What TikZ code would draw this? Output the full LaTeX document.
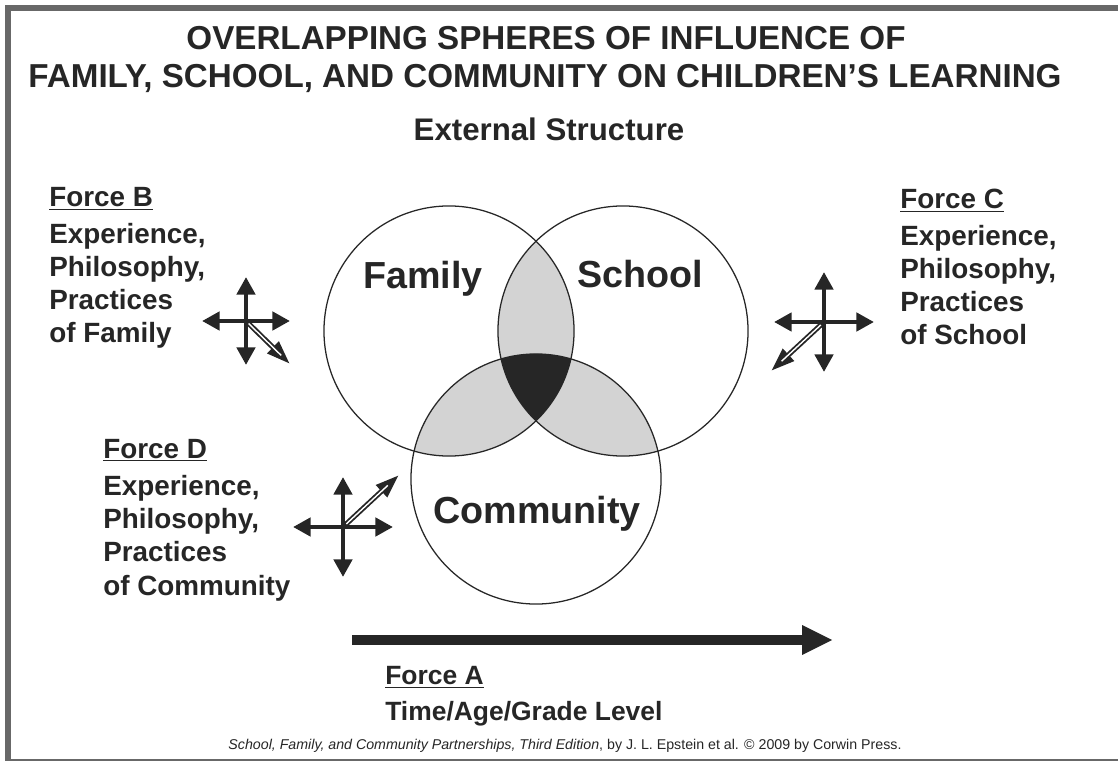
\documentclass[tikz,border=0pt]{standalone}
\usepackage{fontspec}
\setmainfont{Liberation Sans}
\usetikzlibrary{arrows.meta,calc}

\definecolor{ink}{HTML}{262626}
\definecolor{lensgray}{HTML}{D3D3D3}
\definecolor{framegray}{HTML}{686868}

\newcommand{\headfont}{\fontsize{23.6}{28}\selectfont\bfseries}
\newcommand{\subfont}{\fontsize{22.2}{26}\selectfont\bfseries}
\newcommand{\spherefont}{\fontsize{26.8}{30}\selectfont\bfseries}
\newcommand{\forcefont}{\fontsize{19.8}{23.5}\selectfont\bfseries}
\newcommand{\timefont}{\fontsize{18.8}{24.9}\selectfont\bfseries}
\newcommand{\notefont}{\fontsize{10.1}{12}\selectfont}

\tikzset{
  txt/.style={inner sep=0pt, text=ink},
  sphere/.style={draw=ink, line width=0.9pt},
  cross/.style={draw=ink, line width=3.2pt, -{Triangle[length=12.5pt,width=12.8pt]}},
  slant/.style={draw=ink, line width=3.6pt, -{Triangle[length=17pt,width=11pt]}},
  slantgap/.style={draw=white, line width=1pt},
  timeline/.style={draw=ink, line width=7.1pt, -{Triangle[length=22pt,width=19.5pt]}}
}

\begin{document}
\begin{tikzpicture}[x=0.025cm, y=-0.025cm]
    \useasboundingbox (0,0) rectangle (1118,761);

    % frame
    \fill[framegray] (5,5) rectangle (1118,11);
    \fill[framegray] (5,5) rectangle (11,761);
    \fill[framegray] (11,758.5) rectangle (1118,761);

    % heading
    \node[txt, font=\headfont, anchor=base] at (546,50) (head1) {OVERLAPPING SPHERES OF INFLUENCE OF};
    \node[txt, font=\headfont, anchor=base] at (545,88) (head2) {FAMILY, SCHOOL, AND COMMUNITY ON CHILDREN'S LEARNING};
    \node[txt, font=\subfont, anchor=base] at (549,141) (ext) {External Structure};

    % spheres
    \coordinate (fam) at (449,331);
    \coordinate (sch) at (623,331);
    \coordinate (com) at (536,479);

    \begin{scope}
        \clip (fam) circle [radius=3.125cm];
        \fill[lensgray] (sch) circle [radius=3.125cm];
        \fill[lensgray] (com) circle [radius=3.125cm];
    \end{scope}
    \begin{scope}
        \clip (sch) circle [radius=3.125cm];
        \fill[lensgray] (com) circle [radius=3.125cm];
    \end{scope}
    \begin{scope}
        \clip (fam) circle [radius=3.125cm];
        \clip (sch) circle [radius=3.125cm];
        \fill[ink] (com) circle [radius=3.125cm];
    \end{scope}

    \draw[sphere] (fam) circle [radius=3.125cm];
    \draw[sphere] (sch) circle [radius=3.125cm];
    \draw[sphere] (com) circle [radius=3.125cm];

    \node[txt, font=\spherefont, anchor=base] at (423,289) (famlbl) {Family};
    \node[txt, font=\spherefont, anchor=base] at (640,288) (schlbl) {School};
    \node[txt, font=\spherefont, anchor=base] at (537,523) (comlbl) {Community};

    % forces B, C, D (base = last line)
    \node[txt, font=\forcefont, anchor=base west, align=left] at (49,343) (forceb) {%
        \underline{Force B}\\[2.8pt] Experience,\\ Philosophy,\\ Practices\\ of Family};
    \node[txt, font=\forcefont, anchor=base west, align=left] at (900,345) (forcec) {%
        \underline{Force C}\\[2.8pt] Experience,\\ Philosophy,\\ Practices\\ of School};
    \node[txt, font=\forcefont, anchor=base west, align=left] at (103,595) (forced) {%
        \underline{Force D}\\[3.2pt] Experience,\\ Philosophy,\\ Practices\\ of Community};

    \coordinate (fb) at (246,321);
    \coordinate (fc) at (824,322);
    \coordinate (fd) at (343,527);
    \coordinate (fbtip) at (290,364);
    \coordinate (fctip) at (771,371);
    \coordinate (fdtip) at (399,475);

    \foreach \c/\a in {fb/44, fc/50, fd/50}
        \foreach \ang in {0,90,180,270}
            \draw[cross] (\c) -- ++(\ang:\a);

    \foreach \c in {fb, fc, fd} {
        \draw[slant] (\c) -- (\c tip);
        \draw[slantgap] ($(\c)!0.06!(\c tip)$) -- ($(\c)!0.8!(\c tip)$);
    }

    % force A
    \coordinate (tstart) at (352,640);
    \coordinate (tend) at (833,640);
    \draw[timeline] (tstart) -- (tend);

    \node[txt, font=\timefont, anchor=base west, align=left] at (385,720) (forcea) {%
        \underline{Force A}\\ Time/Age/Grade Level};

    % source line
    \node[txt, font=\notefont, anchor=base] at (565,749) (src) {\textit{School, Family, and Community Partnerships, Third Edition}, by J. L. Epstein et al. \textcopyright\ 2009 by Corwin Press.};
\end{tikzpicture}
\end{document}
